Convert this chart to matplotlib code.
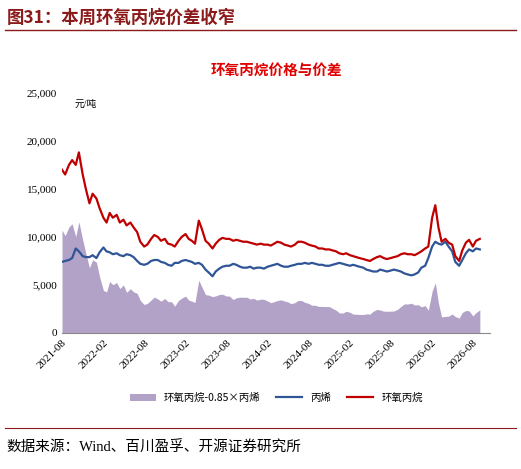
import matplotlib
matplotlib.use("Agg")
import matplotlib.pyplot as plt
import matplotlib.dates as mdates
import numpy as np
import pandas as pd

plt.rcParams['font.family'] = ['Liberation Serif', 'Noto Sans CJK SC']

po = [17000,16500,17500,18000,17500,18800,16500,15000,13500,14500,
      14000,13000,12000,11500,12500,12000,12300,11500,11800,11200,11500,11000,10500,9500,9000,9200,9800,10200,10000,9600,9800,9300,9200,9000,
      9600,10000,10300,9800,9600,9300,11700,10800,9600,9300,8800,9300,9700,9900,9800,9800,9600,9700,9600,9500,9500,9400,9300,9200,
      9300,9200,9200,9100,9300,9500,9400,9200,9100,9000,9200,9500,9500,9400,9200,9100,9000,8800,8800,8700,8700,8600,8500,8300,
      8200,8300,8100,8000,7900,7800,7700,7600,7500,7700,7900,8000,7800,7700,7800,7900,8000,8200,8300,8200,8200,8100,8300,8500,
      8800,9000,12000,13300,11000,9500,9800,9400,9200,8000,7500,8600,9400,9700,9000,9600,9800]
propylene = [7400,7500,7600,7800,8800,8500,8000,7900,7900,8100,
      7800,8400,8900,8500,8400,8200,8300,8100,8000,8200,8100,7900,7500,7200,7100,7200,7500,7600,7600,7400,7300,7100,7000,7300,
      7300,7500,7600,7500,7400,7200,7300,7100,6600,6300,5900,6400,6700,6900,7000,7000,7200,7100,6900,6800,6800,6900,6700,6800,
      6800,6700,6900,7000,7100,7200,7000,6900,6900,7000,7100,7200,7200,7300,7200,7300,7200,7100,7100,7000,7000,7100,7200,7300,
      7200,7100,7000,7100,7000,6900,6800,6600,6500,6400,6400,6600,6500,6400,6500,6600,6500,6400,6200,6100,6000,6100,6300,6800,
      7000,7800,9000,9500,9300,9200,9500,9000,8500,7400,7000,7600,8300,8700,8500,8800,8700]
dates = pd.date_range("2021-08-01", periods=len(po), freq="SMS")
po_a = np.array(po, float); pr_a = np.array(propylene, float)
spread = po_a - 0.85 * pr_a

fig = plt.figure(figsize=(5.21, 4.69), dpi=100)
ax = fig.add_axes([0.119, 0.29, 0.821, 0.512])
ax.fill_between(dates, spread, 0, color='#b3a2c7', lw=0, label='环氧丙烷-0.85×丙烯')
ax.plot(dates, pr_a, color='#2f5597', lw=1.6, label='丙烯')
ax.plot(dates, po_a, color='#c00000', lw=1.6, label='环氧丙烷')
ax.set_ylim(0, 25000)
ax.set_yticks(range(0, 25001, 5000))
ax.yaxis.set_major_formatter(matplotlib.ticker.FuncFormatter(lambda v, p: f"{int(v):,}"))
ax.set_xlim(pd.Timestamp("2021-08-01"), pd.Timestamp("2026-10-15"))
ax.set_xticks(pd.date_range("2021-08-01", "2026-08-01", freq="6MS"))
ax.xaxis.set_major_formatter(mdates.DateFormatter("%Y-%m"))
plt.setp(ax.get_xticklabels(), rotation=45, ha='right', rotation_mode='anchor')
ax.tick_params(labelsize=8, length=0)
for s in ['top', 'right', 'left']:
    ax.spines[s].set_visible(False)
ax.spines['bottom'].set_color('#888888')
ax.text(0.03, 0.97, '元/吨', transform=ax.transAxes, fontsize=7, va='top')
fig.text(0.53, 0.84, '环氧丙烷价格与价差', color='#e00000', fontsize=10.5, fontweight='bold', ha='center', family=['Noto Sans CJK SC'])
fig.text(0.012, 0.962, '图31：本周环氧丙烷价差收窄', color='#8b1a1a', fontsize=12.5, fontweight='bold', va='center', family=['Noto Sans CJK SC'])
fig.add_artist(plt.Line2D([0.01, 0.99], [0.935, 0.935], color='#8b1a1a', lw=1))
fig.legend(loc='center', bbox_to_anchor=(0.53, 0.152), ncol=3, frameon=False, fontsize=7.5,
           handlelength=2.5, columnspacing=1.5, prop={'family': ['Noto Sans CJK SC', 'DejaVu Sans'], 'size': 7.5})
fig.add_artist(plt.Line2D([0.01, 0.99], [0.088, 0.088], color='#8b1a1a', lw=0.8))
fig.text(0.012, 0.045, '数据来源：Wind、百川盈孚、开源证券研究所', fontsize=10.5, va='center')
fig.savefig("out.png", dpi=100)
